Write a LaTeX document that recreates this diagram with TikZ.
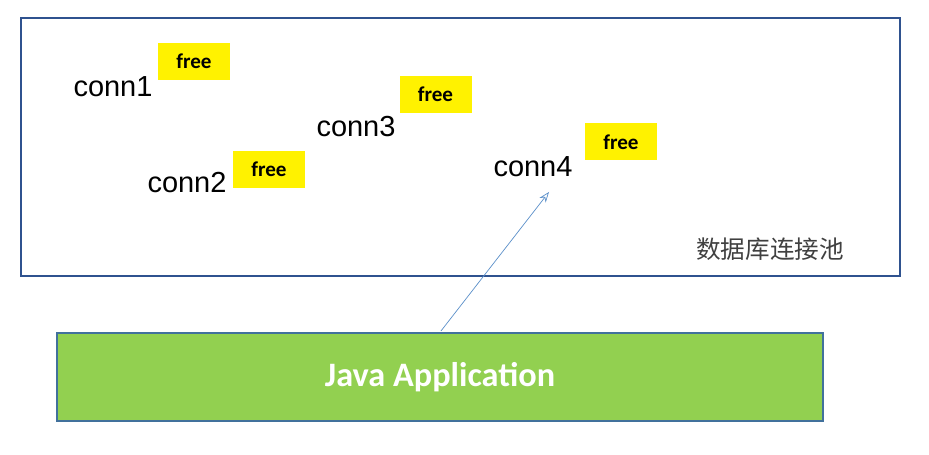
\documentclass[tikz,border=0pt]{standalone}
\usepackage{fontspec}
\setmainfont{Carlito}
\newfontfamily\arialf{Liberation Sans}
\newfontfamily\cjk{Noto Sans CJK SC}
\usetikzlibrary{positioning, arrows.meta}
\definecolor{poolC}{RGB}{47,82,143}
\definecolor{appC}{RGB}{146,208,80}
\definecolor{appD}{RGB}{65,113,156}
\definecolor{arrC}{RGB}{91,143,201}
\begin{document}
\begin{tikzpicture}[x=0.02cm, y=-0.02cm,
    conn/.style={font=\arialf\fontsize{16.5}{18}\selectfont, inner sep=0pt},
    free/.style={fill=yellow, minimum width=1.44cm, minimum height=0.74cm,
                 inner sep=0pt, font=\fontsize{12}{14}\selectfont\bfseries},
]
\useasboundingbox (0,0) rectangle (929,455);

% Pool
\node[draw=poolC, line width=1.2pt, minimum width=17.58cm, minimum height=5.16cm,
      inner sep=0pt] (pool) at (460.5,147) {};
\node[font=\cjk\fontsize{14}{16}\selectfont, text=black!75] (title) at (770,249) {数据库连接池};

% Connections
\node[conn] (c1) at (113,87) {conn1};
\node[free] (f1) at (194,61.5) {free};
\node[conn] (c2) at (187,183) {conn2};
\node[free] (f2) at (269,169.5) {free};
\node[conn] (c3) at (356,127) {conn3};
\node[free] (f3) at (435.5,94.5) {free};
\node[conn] (c4) at (533,167) {conn4};
\node[free] (f4) at (621,142) {free};

% Application
\node[draw=appD, fill=appC, line width=1.2pt, minimum width=15.32cm, minimum height=1.76cm,
      font=\fontsize{19.5}{22}\selectfont\bfseries, text=white] (app) at (440,377) {Java Application};

\coordinate (tip) at (549,192);
\draw[arrC, -{Stealth[length=6pt, open]}] (app.north) ++(1,-1) coordinate (src) -- (tip);
\end{tikzpicture}
\end{document}
